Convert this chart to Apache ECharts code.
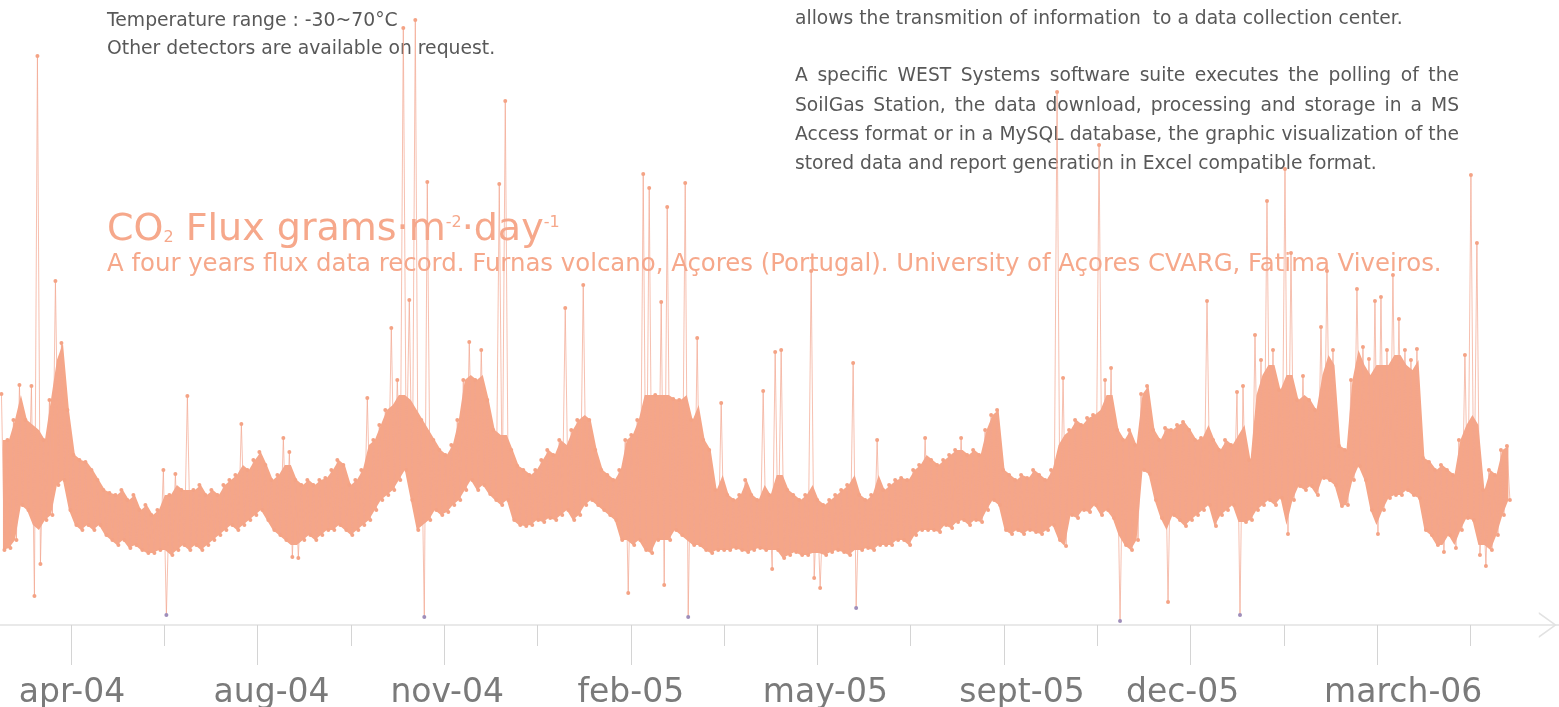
<!DOCTYPE html>
<html>
<head>
<meta charset="utf-8">
<script src="https://cdn.jsdelivr.net/npm/echarts@6/dist/echarts.min.js"></script>
<style>
html,body{margin:0;padding:0;background:#ffffff;}
#chart{width:1559px;height:707px;}
</style>
</head>
<body>
<div id="chart"></div>
<script>
// ---------------- data ----------------
// x-axis tick labels (one per long tick)
const tickLabels = ['apr-04', 'aug-04', 'nov-04', 'feb-05', 'may-05', 'sept-05', 'dec-05', 'march-06'];

// CO2 flux record (one column = a short run of readings):
// highest and lowest single reading of each column (spikes and dips included)
const fluxUpper = [
  231,185,205,240,205,239,569,185,225,344,282,215,
  170,165,163,155,145,135,132,130,135,125,130,115,
  120,110,115,155,130,151,135,229,135,140,130,135,
  130,140,145,150,201,155,165,173,160,145,150,187,
  173,145,140,145,140,145,147,155,165,160,140,145,
  155,227,185,200,215,297,245,597,325,605,205,443,
  185,175,170,180,205,245,283,245,275,225,195,441,
  524,175,159,155,150,155,165,175,170,185,317,195,
  205,340,205,175,155,150,145,155,185,190,205,451,
  437,230,323,418,226,225,442,205,287,185,175,135,
  222,130,125,130,145,130,125,234,130,273,275,135,
  130,125,130,354,125,120,125,130,135,140,262,130,
  125,130,185,135,140,145,147,145,155,160,187,165,
  160,165,170,175,187,170,175,170,195,210,215,155,
  150,145,150,147,155,150,145,155,533,247,195,205,
  200,207,210,480,245,257,195,185,195,180,231,239,
  195,185,197,195,200,203,195,185,187,324,185,175,
  185,180,233,239,165,290,265,424,275,235,456,372,
  225,249,225,215,298,354,275,179,175,245,336,278,
  266,324,328,275,350,306,275,265,276,167,163,155,
  160,155,150,185,270,450,382,135,155,150,175,179
];
const fluxLower = [
  75,77,85,120,115,29,61,105,110,140,145,115,
  100,95,100,95,100,90,85,80,85,77,80,75,
  72,72,75,10,70,75,80,75,80,75,80,85,
  90,95,100,95,100,105,110,115,105,95,90,85,
  68,67,85,90,85,90,95,95,100,95,90,95,
  100,105,115,125,130,135,145,155,125,95,8,105,
  115,110,113,120,125,135,145,135,140,131,125,120,
  125,105,100,99,100,105,103,107,105,110,115,105,
  110,120,125,120,115,110,105,85,32,80,85,75,
  72,85,40,85,95,90,8,80,80,75,72,75,
  75,75,77,75,73,75,77,75,56,75,67,70,
  73,70,70,47,37,70,73,75,73,70,17,75,
  77,75,80,80,80,85,85,80,90,95,95,95,
  93,100,97,103,105,100,105,103,115,125,120,95,
  91,95,91,95,93,91,95,100,85,79,110,107,
  115,113,120,110,115,107,4,80,75,85,155,151,
  125,107,23,110,105,99,105,110,115,120,99,110,
  115,120,10,103,105,115,120,125,120,127,91,125,
  139,135,139,130,147,145,140,119,120,145,159,145,
  115,91,115,127,130,130,135,130,127,95,90,80,
  73,90,77,95,107,105,70,59,75,90,110,125
];
// top and bottom edge of the dense band of readings in each column (isolated spikes/dips left out)
const bandTop = [
  185,185,205,230,205,200,195,185,225,265,282,215,
  170,165,163,155,145,135,132,130,135,125,130,115,
  120,110,115,130,130,140,135,135,135,140,130,135,
  130,140,145,150,160,155,165,173,160,145,150,160,
  160,145,140,145,140,145,147,155,165,160,140,145,
  155,180,185,200,215,220,230,230,225,215,205,195,
  185,175,170,180,205,245,250,245,250,225,195,190,
  190,175,159,155,150,155,165,175,170,185,180,195,
  205,210,205,175,155,150,145,155,185,190,205,230,
  230,230,230,230,226,225,230,205,220,185,175,135,
  150,130,125,130,145,130,125,140,130,150,150,135,
  130,125,130,140,125,120,125,130,135,140,150,130,
  125,130,150,135,140,145,147,145,155,160,170,165,
  160,165,170,175,175,170,175,170,195,210,215,155,
  150,145,150,147,155,150,145,155,180,190,195,205,
  200,207,210,215,230,230,195,185,195,180,231,239,
  195,185,197,195,200,203,195,185,187,200,185,175,
  185,180,190,200,165,230,250,260,260,235,250,250,
  225,230,225,215,250,270,260,179,175,245,275,260,
  250,260,260,260,270,270,260,255,265,167,163,155,
  160,155,150,185,200,210,200,135,155,150,175,179
];
const bandBottom = [
  75,77,85,120,115,100,95,105,110,140,145,115,
  100,95,100,95,100,90,85,80,85,77,80,75,
  72,72,75,75,70,75,80,75,80,75,80,85,
  90,95,100,95,100,105,110,115,105,95,90,85,
  80,80,85,90,85,90,95,95,100,95,90,95,
  100,105,115,125,130,135,145,155,125,95,100,105,
  115,110,113,120,125,135,145,135,140,131,125,120,
  125,105,100,99,100,105,103,107,105,110,115,105,
  110,120,125,120,115,110,105,85,85,80,85,75,
  72,85,85,85,95,90,85,80,80,75,72,75,
  75,75,77,75,73,75,77,75,75,75,67,70,
  73,70,70,72,72,70,73,75,73,70,75,75,
  77,75,80,80,80,85,85,80,90,95,95,95,
  93,100,97,103,105,100,105,103,115,125,120,95,
  91,95,91,95,93,91,95,100,85,79,110,107,
  115,113,120,110,115,107,90,80,75,85,155,151,
  125,107,95,110,105,99,105,110,115,120,99,110,
  115,120,103,103,105,115,120,125,120,127,100,125,
  139,135,139,130,147,145,140,119,120,145,159,145,
  115,100,115,127,130,130,135,130,127,95,90,80,
  80,90,80,95,107,105,80,80,75,90,110,125
];

// texts
const introLines = ['Temperature range : -30~70°C', 'Other detectors are available on request.'];
const leadLine = 'allows the transmition of information  to a data collection center.';
const paragraphLines = [
  'A specific WEST Systems software suite executes the polling of the',
  'SoilGas Station, the data download, processing and storage in a MS',
  'Access format or in a MySQL database, the graphic visualization of the',
  'stored data and report generation in Excel compatible format.'
];
const subtitleText = 'A four years flux data record. Furnas volcano, Açores (Portugal). University of Açores CVARG, Fatima Viveiros.';

// ---------------- build ----------------
const FONT = '"DejaVu Sans", Verdana, sans-serif';
const TEXT_COLOR = '#585858';
const SALMON = '#f4a385';
const BAND_COLOR = '#f5a688';
const LOW_COLOR = '#9f8eba';
const TITLE_COLOR = '#f6a88b';

const TICK_STEP = 560 / 9;          // readings between long ticks
const FIRST_READING = 38.53;        // axis position of the first reading
const LOW_LIMIT = 22;

function point(x, v) {
  return v < LOW_LIMIT ? { value: [x, v], itemStyle: { color: LOW_COLOR } } : { value: [x, v] };
}
const seriesData = [];
for (let i = 0; i < fluxUpper.length; i++) {
  seriesData.push(point(FIRST_READING + 2 * i + 0.5, fluxUpper[i]));
  seriesData.push(point(FIRST_READING + 2 * i + 1.5, fluxLower[i]));
}

const labelShift = [1, 14, 3, 0, 8, 18, -8, 26];
const rich = {};
tickLabels.forEach((t, k) => {
  const s = labelShift[k];
  rich['l' + k] = {
    fontSize: 33, fontFamily: FONT, color: '#7a7a7a',
    padding: s >= 0 ? [0, 0, 0, 2 * s] : [0, -2 * s, 0, 0]
  };
});

const measureCtx = document.createElement('canvas').getContext('2d');
function textWidth(str, font) { measureCtx.font = font; return measureCtx.measureText(str).width; }
function textEl(text, x, yMid, font, fill) {
  return { type: 'text', x: x, y: yMid, z: 1,
    style: { text: text, font: font, fill: fill, verticalAlign: 'middle', textVerticalAlign: 'middle',
             align: 'left', textAlign: 'left' } };
}
function justified(line, x, width, yMid, font, last) {
  if (last) return [textEl(line, x, yMid, font, TEXT_COLOR)];
  const words = line.split(' ');
  const total = words.reduce((s, w) => s + textWidth(w, font), 0);
  const gap = (width - total) / (words.length - 1);
  let cx = x;
  return words.map(w => { const el = textEl(w, cx, yMid, font, TEXT_COLOR); cx += textWidth(w, font) + gap; return el; });
}

const smallFont = '18.7px ' + FONT;
const graphics = [];
introLines.forEach((t, i) => graphics.push(textEl(t, 107, 21 + i * 28.5, '18.8px ' + FONT, TEXT_COLOR)));
graphics.push(textEl(leadLine, 795, 19, smallFont, TEXT_COLOR));
paragraphLines.forEach((t, i) => {
  justified(t, 795, 664, 76.5 + i * 29.2, smallFont, i === paragraphLines.length - 1).forEach(e => graphics.push(e));
});
graphics.push({
  type: 'text', x: 107, y: 208, z: 1,
  style: {
    text: '{n|CO}{sub|2}{n| Flux grams·m}{sup|-2}{n|·day}{sup|-1}',
    verticalAlign: 'top', textVerticalAlign: 'top', fill: TITLE_COLOR,
    rich: {
      n: { fontSize: 38, fontFamily: FONT, fill: TITLE_COLOR, color: TITLE_COLOR, lineHeight: 44 },
      sup: { fontSize: 16, fontFamily: FONT, fill: TITLE_COLOR, color: TITLE_COLOR, verticalAlign: 'top', padding: [7, 0, 0, 0] },
      sub: { fontSize: 16, fontFamily: FONT, fill: TITLE_COLOR, color: TITLE_COLOR, verticalAlign: 'bottom', padding: [0, 0, 6, 0] }
    }
  }
});
graphics.push(textEl(subtitleText, 107, 265, '24.4px ' + FONT, TITLE_COLOR));

const chart = echarts.init(document.getElementById('chart'), null, { renderer: 'canvas' });
chart.setOption({
  animation: false,
  backgroundColor: '#ffffff',
  grid: { left: -115.6, right: -4.8, top: 5, bottom: 82, containLabel: false, outerBoundsMode: 'none' },
  xAxis: {
    type: 'value', min: 0, max: 560, interval: TICK_STEP,
    splitLine: { show: false },
    axisLine: {
      show: true, onZero: false,
      lineStyle: { color: '#e2e2e2', width: 1.5 },
      symbol: ['none', 'path://M0,18 L13,0 L26,18 L24,18 L13,2.6 L2,18 Z'],
      symbolSize: [26, 18], symbolOffset: [0, -16]
    },
    axisTick: { show: true, length: 40, lineStyle: { color: '#d4d4d4', width: 1 } },
    minorTick: { show: true, splitNumber: 2, length: 21, lineStyle: { color: '#d4d4d4', width: 1 } },
    minorSplitLine: { show: false },
    axisLabel: {
      show: true, margin: 52, showMinLabel: true, showMaxLabel: true,
      formatter: function (v) {
        const k = Math.round(v / TICK_STEP) - 1;
        if (k < 0 || k >= tickLabels.length) return '';
        return '{l' + k + '|' + tickLabels[k] + '}';
      },
      rich: rich
    }
  },
  yAxis: { type: 'value', min: 0, max: 620, show: false, splitLine: { show: false } },
  series: [
    {
      type: 'custom', coordinateSystem: 'cartesian2d', data: [[0, 0]], z: 2, silent: true,
      renderItem: function (params, api) {
        const pts = [];
        for (let i = 0; i < bandTop.length; i++) pts.push(api.coord([FIRST_READING + 2 * i + 1, bandTop[i]]));
        for (let i = bandBottom.length - 1; i >= 0; i--) pts.push(api.coord([FIRST_READING + 2 * i + 1, bandBottom[i]]));
        return { type: 'polygon', shape: { points: pts }, style: { fill: BAND_COLOR } };
      }
    },
    {
      type: 'line', data: seriesData, z: 3,
      showSymbol: true, showAllSymbol: true, symbol: 'circle', symbolSize: 4,
      lineStyle: { width: 1, opacity: 0.7, color: '#f2a58e' },
      itemStyle: { color: SALMON },
      emphasis: { disabled: true },
      clip: false
    }
  ],
  graphic: { elements: graphics }
});
</script>
</body>
</html>
